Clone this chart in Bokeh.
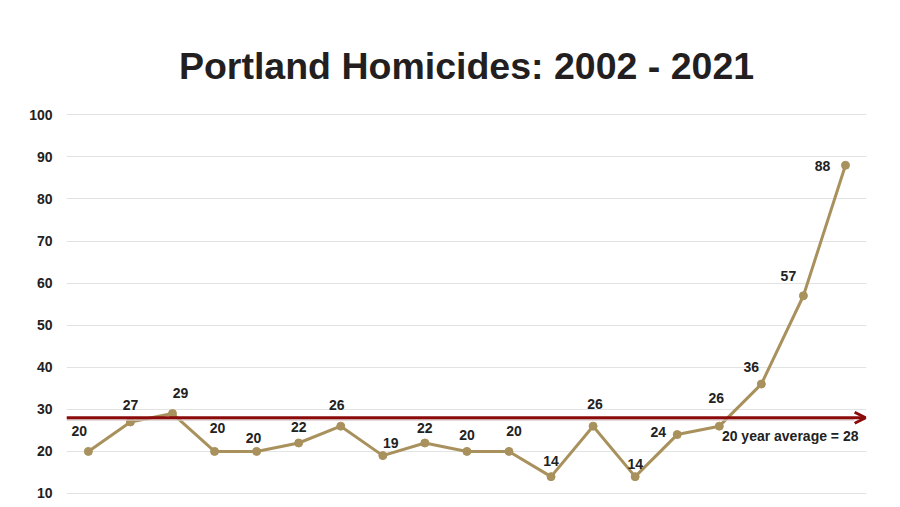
from bokeh.plotting import figure
from bokeh.models import Range1d, FixedTicker, Arrow, OpenHead, ColumnDataSource
from bokeh.core.properties import value
from bokeh.embed import file_html
from bokeh.resources import INLINE

# ---- data ----
years = [2003, 2004, 2005, 2006, 2007, 2008, 2009, 2010, 2011, 2012,
         2013, 2014, 2015, 2016, 2017, 2018, 2019, 2020, 2021]
homicides = [20, 27, 29, 20, 20, 22, 26, 19, 22, 20,
             20, 14, 26, 14, 24, 26, 36, 57, 88]
average = 28
y_ticks = [10, 20, 30, 40, 50, 60, 70, 80, 90, 100]
title_text = "Portland Homicides: 2002 - 2021"
avg_text = "20 year average = 28"

# ---- styles (label nudges in pixels) ----
label_dx = [-9, 0, 8, 3, -3, 0, -4, 8, 0, 0, 5, 0, 2, 0, -19, -3, -10, -15, -23]
label_dy = [-20, -17, -21, -23, -13, -16, -21, -13, -15, -16, -20, -16, -22, -13, -3, -28, -17, -20, 1]

FONT = "Liberation Sans"
LINE_COLOR = "#A8915C"
TEXT_COLOR = "#222222"
RED = "#8B0A0A"

src = ColumnDataSource(dict(
    x=years, y=homicides, label=[str(v) for v in homicides],
    dx=label_dx, dy=label_dy,
))

p = figure(width=900, height=507, output_backend="svg", toolbar_location=None,
           x_range=Range1d(2002.48, 2021.5), y_range=Range1d(6.67, 101.5),
           min_border_left=66, min_border_right=34, min_border_top=108,
           min_border_bottom=0)

p.title.text = title_text
p.title.align = "center"
p.title.text_font = FONT
p.title.text_font_size = "37.5px"
p.title.text_font_style = "bold"
p.title.text_color = "#231F20"
p.title.standoff = 43

p.outline_line_color = None
p.background_fill_color = "white"
p.border_fill_color = "white"

p.xaxis.visible = False
p.xgrid.grid_line_color = None
p.ygrid.grid_line_color = "#E3E3E3"
p.ygrid.grid_line_width = 1

yax = p.yaxis[0]
yax.ticker = FixedTicker(ticks=y_ticks)
yax.axis_line_color = None
yax.major_tick_line_color = None
yax.minor_tick_line_color = None
yax.major_label_standoff = 8
yax.major_label_text_font = FONT
yax.major_label_text_font_size = "14px"
yax.major_label_text_font_style = "bold"
yax.major_label_text_color = TEXT_COLOR

# faint shadow under the average line
p.add_layout(Arrow(x_start=p.x_range.start, y_start=average - 0.55,
                   x_end=p.x_range.end - 0.3, y_end=average - 0.55,
                   line_color="#D9C9C9", line_width=2, line_alpha=0.7, end=None))
# average arrow
p.add_layout(Arrow(x_start=p.x_range.start, y_start=average,
                   x_end=p.x_range.end - 0.02, y_end=average,
                   line_color=RED, line_width=3,
                   end=OpenHead(size=11, line_color=RED, line_width=3)))

p.line("x", "y", source=src, line_color=LINE_COLOR, line_width=3)
p.scatter("x", "y", source=src, size=8, color=LINE_COLOR)

p.text("x", "y", text="label", source=src, x_offset="dx", y_offset="dy",
       text_align="center", text_baseline="middle",
       text_font=value(FONT), text_font_size="14px", text_font_style="bold",
       text_color=TEXT_COLOR)

p.text(x=[p.x_range.end], y=[average], text=[avg_text], x_offset=-8, y_offset=18,
       text_align="right", text_baseline="middle",
       text_font=value(FONT), text_font_size="14px", text_font_style="bold",
       text_color=TEXT_COLOR)

open("out.html", "w").write(file_html(p, INLINE))
